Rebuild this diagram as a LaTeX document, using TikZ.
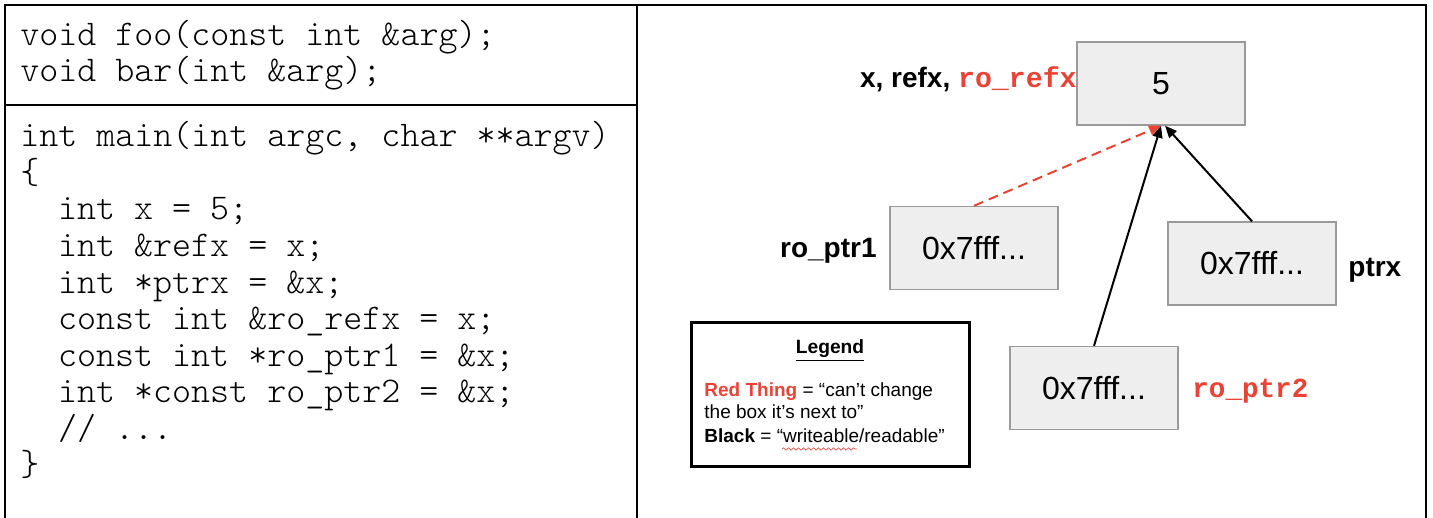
\documentclass[tikz,border=0pt]{standalone}
\usepackage{fontspec}
\setmainfont{Liberation Sans}
\newfontfamily\codefam{Latin Modern Mono Light}
\newfontfamily\labmono{Liberation Mono}
\usetikzlibrary{arrows.meta,decorations.pathmorphing}
\definecolor{gred}{HTML}{EA4335}
\definecolor{boxfill}{HTML}{EEEEEE}
\definecolor{boxline}{HTML}{9A9A9A}
\newcommand{\codefont}{\codefam\fontsize{18.1}{18.25}\selectfont}
\begin{document}
\begin{tikzpicture}[x=0.5pt,y=-0.5pt,
  frame/.style={line width=1.3pt,black},
  code/.style={anchor=base west,inner sep=0pt,font=\codefont},
  membox/.style={draw=boxline,fill=boxfill,line width=0.7pt,minimum width=84pt,minimum height=41.5pt,inner sep=0pt,font=\fontsize{16}{19}\selectfont},
  lbl/.style={inner sep=0pt,font=\fontsize{14}{17}\selectfont\bfseries},
  redmono/.style={text=gred,font=\labmono\bfseries\fontsize{13.8}{17}\selectfont},
  ptr/.style={line width=1pt,-{Triangle[length=6pt,width=5pt]}},
  legtext/.style={anchor=base west,inner sep=0pt,font=\fontsize{9.5}{11}\selectfont}]
\useasboundingbox (0,0) rectangle (1433,518);
% frame
\draw[frame] (5,519) -- (5,5) -- (1426,5) -- (1426,519);
\draw[frame] (637,5) -- (637,519);
\draw[frame] (5,105) -- (637,105);
% declarations
\node[code] (d1) at (20,46) {void foo(const int \&arg);};
\node[code] (d2) at (20,82) {void bar(int \&arg);};
% main
\node[code] (m1) at (20,147) {int main(int argc, char **argv)};
\node[code] (m2) at (20,183.5) {\{};
\node[code] (m3) at (57.8,220) {int x = 5;};
\node[code] (m4) at (57.8,256.5) {int \&refx = x;};
\node[code] (m5) at (57.8,293) {int *ptrx = \&x;};
\node[code] (m6) at (57.8,329.5) {const int \&ro\_refx = x;};
\node[code] (m7) at (57.8,366) {const int *ro\_ptr1 = \&x;};
\node[code] (m8) at (57.8,402.5) {int *const ro\_ptr2 = \&x;};
\node[code] (m9) at (57.8,439) {// ...};
\node[code] (m10) at (20,475.5) {\}};
% memory boxes
\node[membox] (five) at (1161,83.5) {5};
\node[membox] (p1) at (974,248) {0x7fff...};
\node[membox] (px) at (1252,263.5) {0x7fff...};
\node[membox] (p2) at (1094,388) {0x7fff...};
% labels
\node[lbl,anchor=base east] (lx) at (1077,88) {x, refx, \textcolor{gred}{\labmono\fontsize{14.1}{17}\selectfont ro\_refx}};
\node[lbl,anchor=base east] (lp1) at (877,257) {ro\_ptr1};
\node[lbl,anchor=base west] (lpx) at (1348,276) {ptrx};
\node[redmono,anchor=base west,inner sep=0pt] (lp2) at (1192,397) {ro\_ptr2};
% arrows
\draw[ptr,gred,dash pattern=on 5pt off 3pt] (p1.north) -- (five.south);
\draw[ptr] (p2.north) -- (five.south);
\draw[ptr] (px.north) -- ([xshift=2pt]five.south);
% legend
\node[draw,line width=1.5pt,minimum width=139pt,minimum height=72pt,inner sep=0pt] (legend) at (830,394.5) {};
\node[inner sep=0pt,font=\fontsize{9.6}{11}\selectfont\bfseries] (legtitle) at (830,351) {\underline{Legend}};
\node[legtext] (lg1) at (704,396) {\textcolor{gred}{\bfseries Red Thing} = “can’t change};
\node[legtext] (lg2) at (704,418) {the box it’s next to”};
\node[legtext] (lg3) at (704,442) {\textbf{Black} = “writeable/readable”};
\draw[gred,line width=0.3pt,decorate,decoration={snake,amplitude=0.6pt,segment length=2.5pt}] (782,449) -- (857,449);
\end{tikzpicture}
\end{document}
